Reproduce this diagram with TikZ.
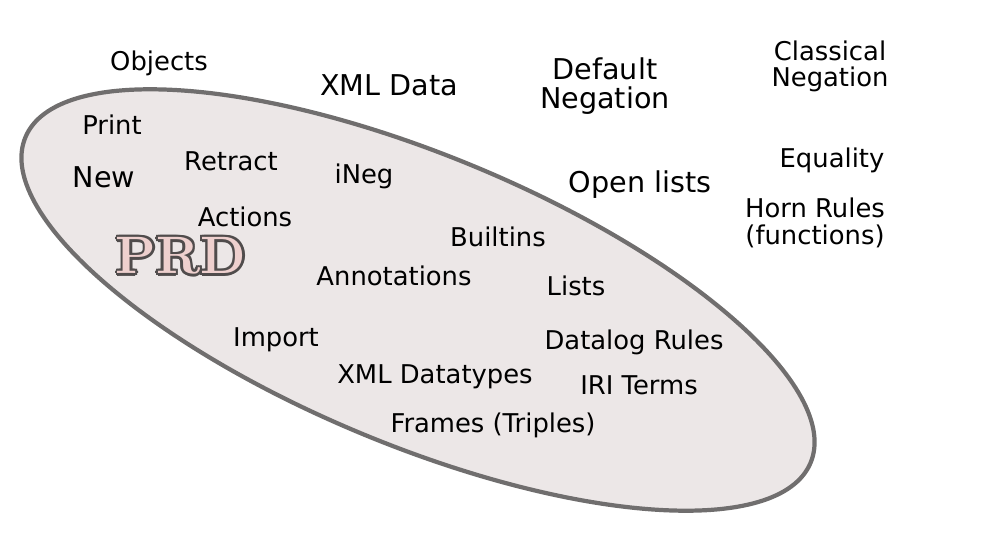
\documentclass[tikz,border=0pt]{standalone}
\usepackage{fontspec}
\setmainfont{DejaVu Sans}
\newfontfamily\prdfont{Latin Modern Roman}
\begin{document}
\begin{tikzpicture}[x=0.02cm,y=-0.02cm,
  t/.style={inner sep=0pt,font=\fontsize{14.7}{17}\selectfont,align=center},
  tb/.style={inner sep=0pt,font=\fontsize{16.3}{16.5}\selectfont,align=center}]
\useasboundingbox (0,0) rectangle (1000,548);
\draw[line width=2.4pt,draw={rgb,255:red,112;green,110;blue,110},fill={rgb,255:red,236;green,231;blue,231},rotate around={-22.5:(418,300)}] (418,300) ellipse [x radius=425,y radius=145];
\node[t] (objects) at (159,63) {Objects};
\node[tb] (xmldata) at (389,85) {XML Data};
\node[tb] (defneg) at (605,86) {Default\\Negation};
\node[t,font=\fontsize{14.7}{14.7}\selectfont] (classneg) at (830,66) {Classical\\Negation};
\node[t] (print) at (112,125) {Print};
\node[tb] (new) at (104,177) {New};
\node[t] (retract) at (231,161) {Retract};
\node[t] (ineg) at (364,176) {iNeg};
\node[t] (actions) at (245,217) {Actions};
\node[tb] (open) at (640,185) {Open lists};
\node[t] (eq) at (832,160) {Equality};
\node[t,font=\fontsize{14.7}{15}\selectfont] (horn) at (815,223) {Horn Rules\\(functions)};
\node[t] (builtins) at (498,237) {Builtins};
\node[t] (annot) at (394,276) {Annotations};
\node[t] (lists) at (576,286) {Lists};
\node[t] (import) at (276,340) {Import};
\node[t] (datalog) at (634,342) {Datalog Rules};
\node[t] (xmldt) at (435,377) {XML Datatypes};
\node[t] (iri) at (639,385) {IRI Terms};
\node[t] (frames) at (493,425) {Frames (Triples)};
\foreach \dx/\dy in {-2.5/0,2.5/0,0/-2.5,0/2.5,-1.8/-1.8,1.8/1.8,-1.8/1.8,1.8/-1.8}
  \node[inner sep=0pt,font=\prdfont\bfseries\fontsize{30}{30}\selectfont,text={rgb,255:red,80;green,76;blue,76}] at (181+\dx,256+\dy) {PRD};
\node[inner sep=0pt,font=\prdfont\bfseries\fontsize{30}{30}\selectfont,text={rgb,255:red,238;green,208;blue,206}] (prd) at (181,256) {PRD};
\end{tikzpicture}
\end{document}
